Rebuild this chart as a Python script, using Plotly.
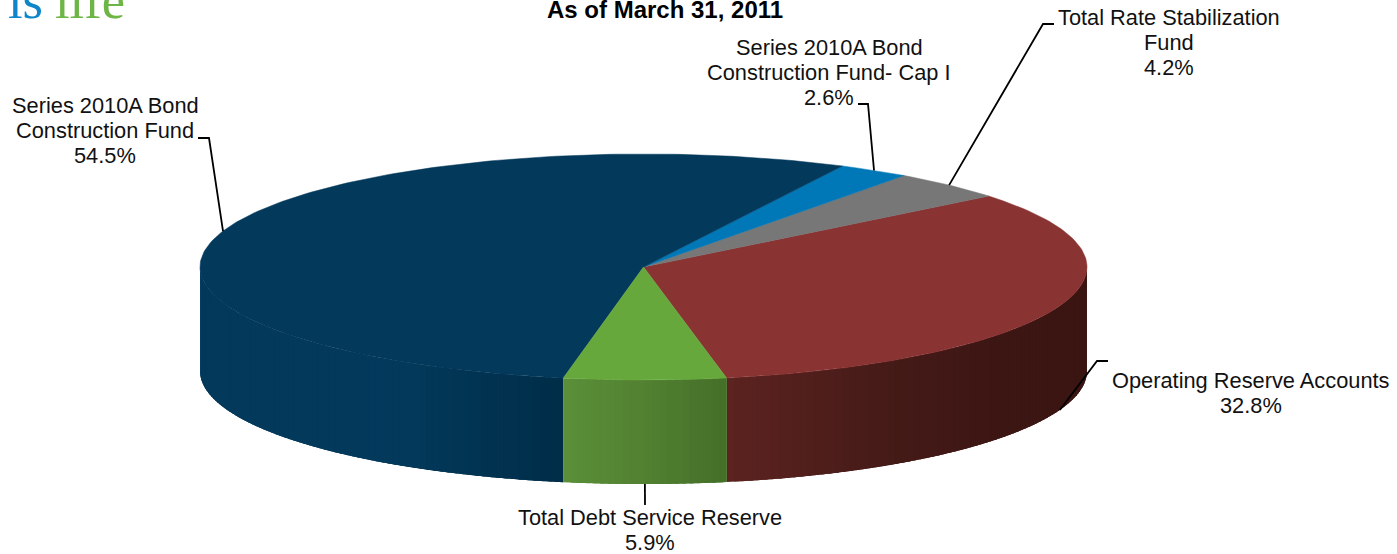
import math
import plotly.graph_objects as go

# Fund balances, in drawing order starting just right of the front of the pie
categories = [
    ["Operating Reserve Accounts"],
    ["Total Rate Stabilization", "Fund"],
    ["Series 2010A Bond", "Construction Fund- Cap I"],
    ["Series 2010A Bond", "Construction Fund"],
    ["Total Debt Service Reserve"],
]
shares = [32.8, 4.2, 2.6, 54.5, 5.9]

top_colors = ["#8A3333", "#777777", "#0077B6", "#03395B", "#66A83C"]
# Side wall shading: (x pixel, colour) stops for each slice
wall_stops = [
    [(727, (92, 35, 32)), (880, (70, 27, 24)), (1000, (60, 22, 19)), (1087, (58, 21, 18))],
    [(0, (90, 90, 90)), (1397, (90, 90, 90))],
    [(0, (0, 90, 140)), (1397, (0, 90, 140))],
    [(200, (3, 57, 91)), (410, (3, 57, 91)), (475, (1, 52, 82)), (563, (0, 45, 72))],
    [(563, (91, 143, 56)), (640, (82, 130, 50)), (727, (68, 111, 40))],
]

# Label anchor: horizontal centre and the vertical centre of the first line
label_anchors = [(1251, 380), (1169, 17), (829, 47), (105, 105), (650, 517)]
LINE_PITCH = 25.2
elbows = [
    [(1108, 361), (1097, 361)],
    [(1054, 24), (1043, 24)],
    [(858, 104), (868, 104)],
    [(198, 138), (209, 138)],
    [(645, 505)],
]

# Ellipse geometry of the pie body
CX, CY, RX, RY, DEPTH = 643.5, 267.0, 443.5, 113.0, 104.0
START = 10.8  # degrees from the front of the pie, counter-clockwise on screen


def rim(theta, drop=0.0):
    t = math.radians(theta)
    return CX + RX * math.sin(t), CY + RY * math.cos(t) + drop


def shade(stops, x):
    if x <= stops[0][0]:
        return stops[0][1]
    for (x0, c0), (x1, c1) in zip(stops, stops[1:]):
        if x <= x1:
            f = (x - x0) / (x1 - x0)
            return tuple(a + (b - a) * f for a, b in zip(c0, c1))
    return stops[-1][1]


def rgb(c):
    return "rgb(%d,%d,%d)" % tuple(round(v) for v in c)


def polygon(xs, ys, color, width=0.8):
    return go.Scatter(
        x=xs, y=ys, mode="lines", fill="toself", fillcolor=color,
        line=dict(color=color, width=width), hoverinfo="skip", showlegend=False,
    )


# Slice boundaries as angles around the ellipse
spans = []
angle = START
for share in shares:
    sweep = share * 3.6
    spans.append((angle, angle + sweep))
    angle += sweep

fig = go.Figure()

# Front wall: overlapping vertical strips painted left to right within each
# slice, so that no seams open between neighbours
for (a0, a1), stops in zip(spans, wall_stops):
    for base in (0.0, -360.0):
        lo, hi = max(a0 + base, -90.0), min(a1 + base, 90.0)
        if hi <= lo:
            continue
        n = max(1, int(math.ceil(hi - lo)))
        for i in range(n):
            t0 = lo + (hi - lo) * i / n
            t1 = lo + (hi - lo) * (i + 1) / n
            tail = min(t1 + 1.5, hi)
            col = rgb(shade(stops, (rim(t0)[0] + rim(t1)[0]) / 2))
            steps = [t0, t1, tail]
            upper = [rim(t) for t in steps]
            lower = [rim(t, DEPTH) for t in reversed(steps)]
            ring = upper + lower + [upper[0]]
            fig.add_trace(polygon([p[0] for p in ring], [p[1] for p in ring], col, 0))

# Top face wedges
for (a0, a1), color in zip(spans, top_colors):
    n = max(2, int(a1 - a0))
    pts = [rim(a0 + (a1 - a0) * i / n) for i in range(n + 1)]
    xs = [CX] + [p[0] for p in pts] + [CX]
    ys = [CY] + [p[1] for p in pts] + [CY]
    fig.add_trace(polygon(xs, ys, color, 0.5))

# Leader lines run from each label to the rim at the slice's mid angle
annotations = []
for (a0, a1), lines, share, anchor, elbow in zip(
        spans, categories, shares, label_anchors, elbows):
    mid = (a0 + a1) / 2
    visible_front = math.cos(math.radians(mid)) > 0.1
    end = rim(mid, DEPTH if visible_front else 0.0)
    fig.add_trace(go.Scatter(
        x=[p[0] for p in elbow] + [end[0]],
        y=[p[1] for p in elbow] + [end[1]],
        mode="lines", line=dict(color="#000000", width=1.8),
        hoverinfo="skip", showlegend=False,
    ))
    for row, text in enumerate(lines + [f"{share}%"]):
        annotations.append(dict(
            x=anchor[0], y=anchor[1] + row * LINE_PITCH, xref="x", yref="y",
            showarrow=False, text=text, align="center",
            xanchor="center", yanchor="middle",
            font=dict(family="Liberation Sans", size=21.8, color="#111111"),
        ))

annotations.append(dict(
    x=665, y=9.5, xref="x", yref="y", showarrow=False,
    text="<b>As of March 31, 2011</b>", xanchor="center", yanchor="middle",
    font=dict(family="Liberation Sans", size=24, color="#000000"),
))
# Tagline running off the top left corner
annotations.append(dict(
    x=6, y=0, xref="x", yref="y", showarrow=False, text="is",
    xanchor="left", yanchor="middle",
    font=dict(family="Liberation Serif", size=52.5, color="#0E86C9"),
))
annotations.append(dict(
    x=53, y=0, xref="x", yref="y", showarrow=False, text="life",
    xanchor="left", yanchor="middle",
    font=dict(family="Liberation Serif", size=52.5, color="#6DB544"),
))

fig.update_layout(
    width=1397, height=554, margin=dict(l=0, r=0, t=0, b=0),
    paper_bgcolor="white", plot_bgcolor="white", showlegend=False,
    xaxis=dict(range=[0, 1397], visible=False, fixedrange=True),
    yaxis=dict(range=[554, 0], visible=False, fixedrange=True),
    annotations=annotations,
)

fig.write_html("out.html")
